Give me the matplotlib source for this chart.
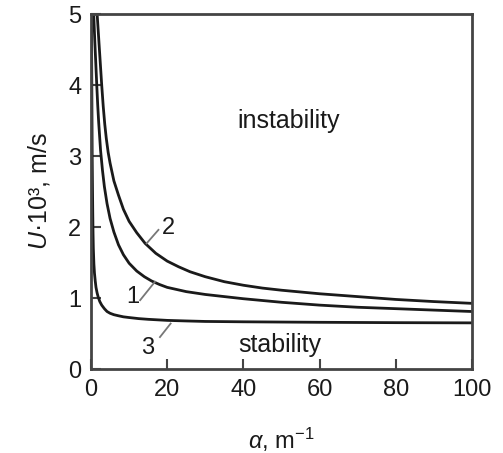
import matplotlib
matplotlib.use("Agg")
import matplotlib.pyplot as plt

plt.rcParams['font.family'] = ['Liberation Sans', 'DejaVu Sans']
plt.rcParams['mathtext.fontset'] = 'custom'
plt.rcParams['mathtext.rm'] = 'Liberation Sans'
plt.rcParams['mathtext.it'] = 'Liberation Sans:italic'

# curve 2 (upper)
alpha_2 = [1.6, 1.9, 2.2, 2.5, 2.8, 3.2, 3.6, 4.0, 4.5, 5.0, 6.0, 7.2, 8.5, 10, 12, 14.2, 17, 20,
           23, 26, 30, 35, 40, 45, 50, 60, 70, 80, 90, 100]
u_2 = [5.0, 4.75, 4.5, 4.25, 4.0, 3.7, 3.45, 3.25, 3.05, 2.9, 2.65, 2.45, 2.25, 2.08, 1.92, 1.77, 1.63, 1.52,
       1.44, 1.37, 1.30, 1.23, 1.18, 1.14, 1.11, 1.06, 1.02, 0.98, 0.95, 0.925]

# curve 1 (middle)
alpha_1 = [0.7, 0.85, 1.0, 1.25, 1.5, 1.75, 2.0, 2.5, 3.0, 3.5, 4.2, 5, 6, 7.2, 8.5, 10, 12, 14, 15.9, 18,
           20, 25, 30, 35, 40, 50, 60, 70, 80, 90, 100]
u_1 = [5.0, 4.8, 4.6, 4.3, 4.0, 3.72, 3.48, 3.08, 2.8, 2.57, 2.33, 2.12, 1.93, 1.75, 1.61, 1.49, 1.38, 1.30, 1.24, 1.19,
       1.15, 1.09, 1.05, 1.02, 0.99, 0.94, 0.90, 0.87, 0.85, 0.83, 0.81]

# curve 3 (lower)
alpha_3 = [0.1, 0.15, 0.2, 0.25, 0.3, 0.38, 0.45, 0.52, 0.6, 0.75, 0.9, 1.1, 1.3, 1.6, 1.9, 2.3, 2.8, 3.5, 4.2,
           5, 6, 7.2, 8.5, 10, 12.5, 15, 20, 25, 30, 40, 60, 80, 100]
u_3 = [5.0, 4.5, 4.0, 3.5, 3.0, 2.55, 2.2, 1.92, 1.70, 1.48, 1.35, 1.24, 1.15, 1.07, 1.01, 0.95, 0.90, 0.85, 0.81,
       0.785, 0.765, 0.75, 0.735, 0.725, 0.71, 0.70, 0.685, 0.677, 0.67, 0.665, 0.658, 0.653, 0.65]

x_ticks = [0, 20, 40, 60, 80, 100]
y_ticks = [0, 1, 2, 3, 4, 5]

# curve labels: text, text position, leader line start/end
curve_labels = [
    ('2', (20.3, 1.99), (14.6, 1.77), (17.7, 1.96)),
    ('1', (10.9, 1.01), (12.9, 0.97), (16.8, 1.23)),
    ('3', (14.8, 0.30), (18.1, 0.45), (20.9, 0.64)),
]

fig = plt.figure(figsize=(5.03, 4.53), dpi=100)
ax = fig.add_axes([0.181, 0.1854, 0.757, 0.7836])

line_kw = dict(color='#1a1a1a', linewidth=2.0, solid_joinstyle='round')
ax.plot(alpha_2, u_2, **line_kw)
ax.plot(alpha_1, u_1, **line_kw)
ax.plot(alpha_3, u_3, **line_kw)

for txt, pos, p0, p1 in curve_labels:
    ax.plot([p0[0], p1[0]], [p0[1], p1[1]], color='#777777', linewidth=1.3)
    ax.text(pos[0], pos[1], txt, fontsize=17, ha='center', va='center', color='#1a1a1a')

ax.text(52, 3.49, 'instability', fontsize=18, ha='center', va='center', color='#1a1a1a')
ax.text(49.6, 0.34, 'stability', fontsize=18, ha='center', va='center', color='#1a1a1a')

ax.set_xlim(0, 100)
ax.set_ylim(0, 5)
ax.set_xticks(x_ticks)
ax.set_yticks(y_ticks)
ax.tick_params(direction='in', length=7, width=1.5, color='#444444',
               labelsize=17, labelcolor='#1a1a1a', pad=7)
for side in ['top', 'right', 'left', 'bottom']:
    ax.spines[side].set_linewidth(2.0)
    ax.spines[side].set_color('#444444')

ax.set_xlabel(r'$\alpha$, m$^{-1}$', fontsize=17, color='#1a1a1a', labelpad=18)
ax.set_ylabel(r'$U$·10³, m/s', fontsize=18, color='#1a1a1a', labelpad=12)

fig.savefig('out.png', dpi=100)
